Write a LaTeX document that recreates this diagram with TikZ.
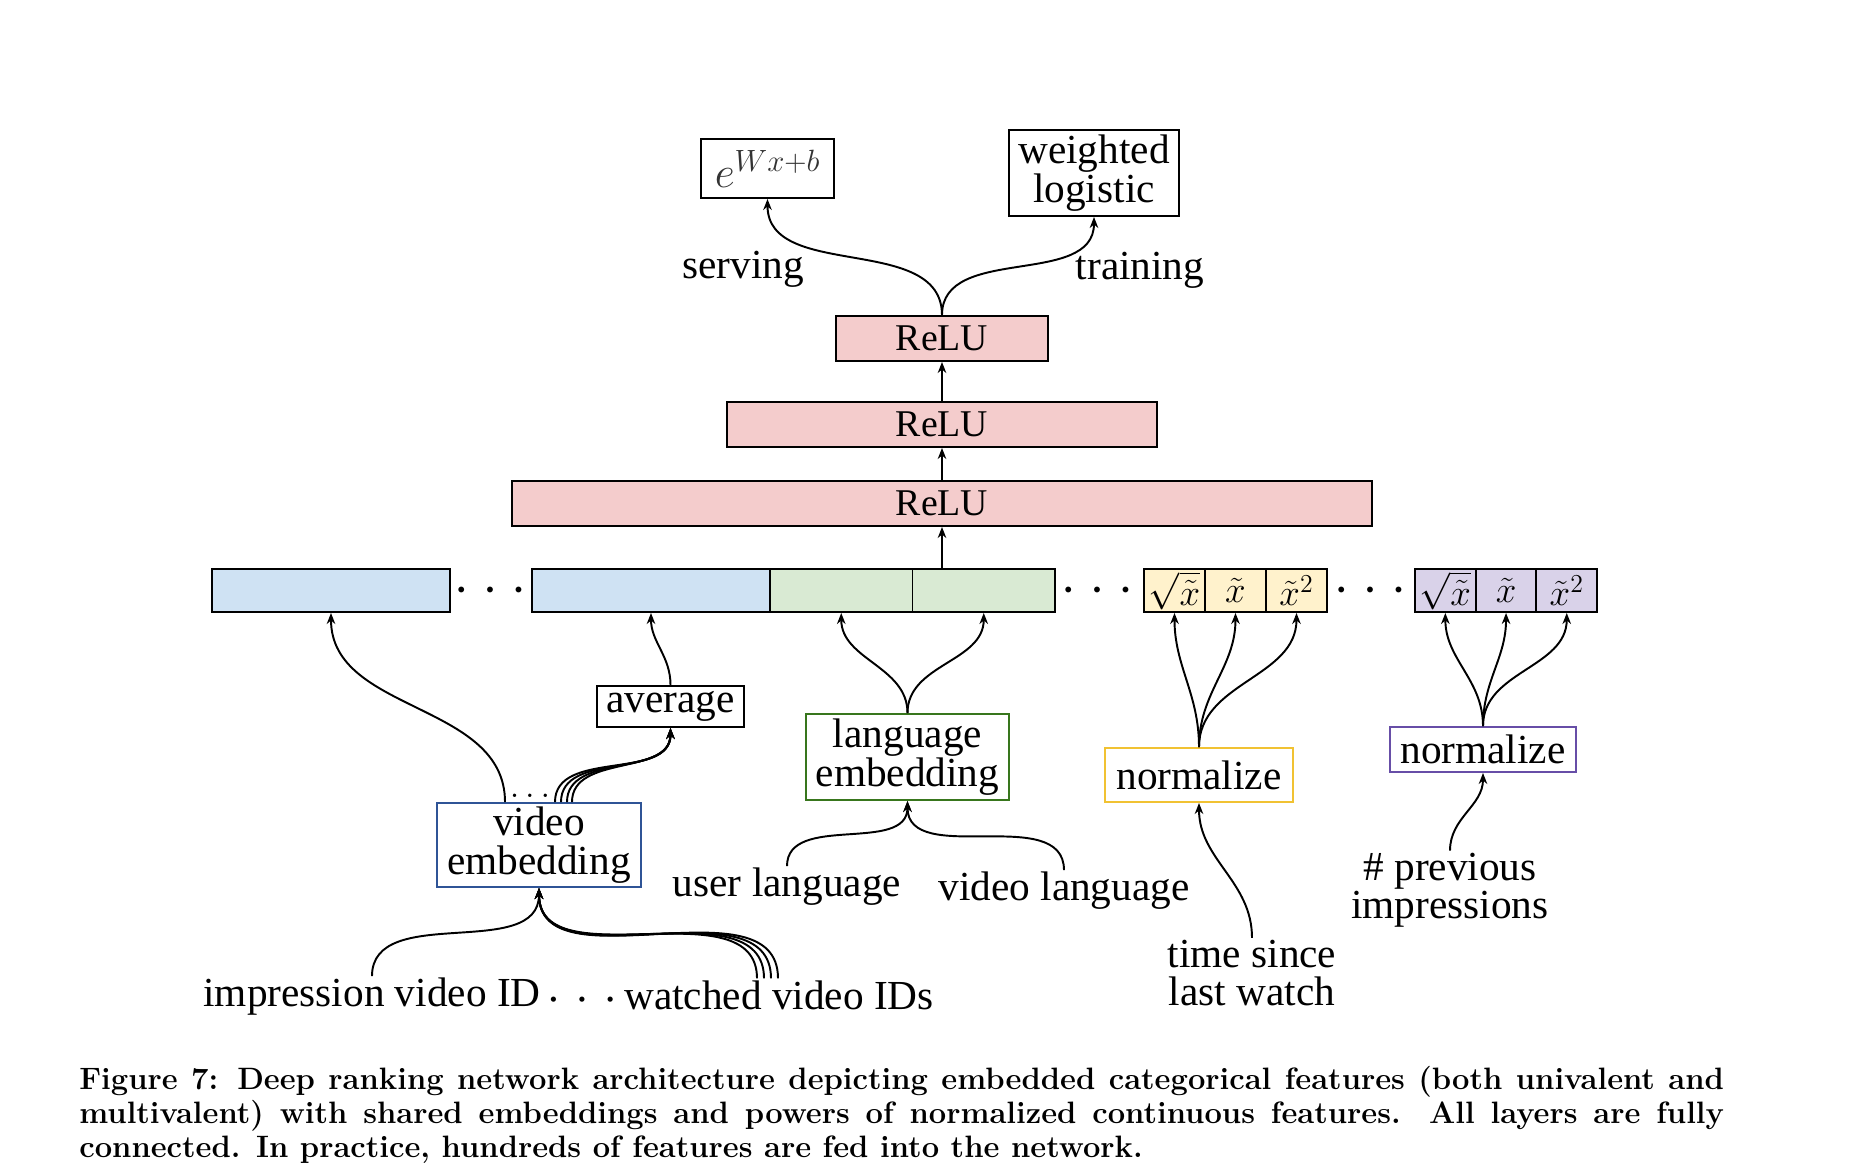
\RequirePackage{fix-cm}
\documentclass[tikz,border=0pt]{standalone}
\usepackage{amsmath}
\usepackage[no-math]{fontspec}
\setmainfont{Liberation Serif}
\usepackage{xcolor}
\usetikzlibrary{arrows.meta}

\definecolor{relupink}{RGB}{244,204,204}
\definecolor{embblue}{RGB}{207,226,243}
\definecolor{langgreen}{RGB}{217,234,211}
\definecolor{tswyellow}{RGB}{255,242,204}
\definecolor{imppurple}{RGB}{217,210,233}
\definecolor{vidborder}{RGB}{47,84,150}
\definecolor{langborder}{RGB}{56,118,29}
\definecolor{tswborder}{RGB}{241,194,50}
\definecolor{impborder}{RGB}{103,78,167}

\newcommand{\rowdots}[1]{{\fontsize{#1}{#1}\selectfont$\bullet$\hspace{12pt}$\bullet$\hspace{12pt}$\bullet$}}

\begin{document}
\begin{tikzpicture}[
  x=0.02cm, y=0.02cm,
  font=\fontsize{23.5}{21.9}\selectfont,
  layer/.style={draw, line width=1.1pt, fill=relupink, minimum height=0.9cm, inner sep=0pt,
                font=\fontsize{21.5}{22}\selectfont},
  feat/.style={draw, line width=1.1pt, minimum height=0.86cm, inner sep=0pt,
               font=\fontsize{21}{22}\selectfont},
  opbox/.style={draw, line width=1.1pt, fill=white, align=center, inner sep=0pt},
  lbl/.style={align=center, inner sep=1pt},
  arr/.style={-{Stealth[length=2.2mm, width=1.7mm, inset=0.7mm]}, line width=1.1pt},
  up/.style={out=90, in=-90}
]
\useasboundingbox (0,0) rectangle (1850,-1174);

% output heads
\node[opbox, minimum width=2.66cm, minimum height=1.18cm, font=\fontsize{25}{26}\selectfont, text=black!80] (expo) at (767.5,-168.5) {$e^{Wx+b}$};
\node[opbox, minimum width=3.4cm, minimum height=1.72cm] (wlog) at (1094,-173) {weighted\\logistic};
\node[lbl] (serving) at (743,-269) {serving};
\node[lbl] (training) at (1140,-270) {training};

% hidden layers
\node[layer, minimum width=4.24cm] (relu3) at (942,-338.5) {ReLU};
\node[layer, minimum width=8.6cm] (relu2) at (942,-424.5) {ReLU};
\node[layer, minimum width=17.2cm] (relu1) at (942,-503.5) {ReLU};

% feature row
\node[feat, fill=embblue, minimum width=4.76cm] (vec1) at (331,-590.5) {};
\node (dots1) at (490,-590.5) {\rowdots{8}};
\node[feat, fill=embblue, minimum width=4.76cm] (vec2) at (651,-590.5) {};
\node[feat, fill=langgreen, minimum width=2.85cm] (lang1) at (841.25,-590.5) {};
\node[feat, fill=langgreen, minimum width=2.85cm] (lang2) at (983.75,-590.5) {};
\node (dots2) at (1097,-590.5) {\rowdots{8}};
\foreach \t [count=\i] in {{\sqrt{\tilde x}}, {\tilde x}, {\tilde x^2}}
  \node[feat, fill=tswyellow, minimum width=1.22cm] (tsw\i) at (1113.5+61*\i,-590.5) {$\t$};
\node (dots4) at (1370,-590.5) {\rowdots{8}};
\foreach \t [count=\i] in {{\sqrt{\tilde x}}, {\tilde x}, {\tilde x^2}}
  \node[feat, fill=imppurple, minimum width=1.214cm] (imp\i) at (1384.65+60.7*\i,-590.5) {$\t$};

% embeddings and normalizers
\node[opbox, minimum width=2.94cm, minimum height=0.82cm] (avg) at (670.5,-706.5) {average};
\node[opbox, draw=langborder, minimum width=4.06cm, minimum height=1.72cm] (langemb) at (907.5,-757) {language\\embedding};
\node[opbox, draw=tswborder, minimum width=3.76cm, minimum height=1.08cm] (normy) at (1199,-775) {normalize};
\node[opbox, draw=impborder, minimum width=3.72cm, minimum height=0.9cm] (normp) at (1483,-749.5) {normalize};
\node[opbox, draw=vidborder, minimum width=4.08cm, minimum height=1.68cm] (vemb) at (539,-845) {video\\embedding};
\node[anchor=base, inner sep=0pt, font=\fontsize{20}{22}\selectfont] (vdots) at (533,-797) {$\dots$};

% inputs
\node[lbl] (userlang) at (787,-887) {user language};
\node[lbl] (vidlang) at (1064,-891) {video language};
\node[lbl] (tsince) at (1252,-973) {time since\\last watch};
\node[lbl] (previmp) at (1450,-890) {\# previous\\impressions};
\node[lbl] (impid) at (372,-997) {impression video ID};
\node (dots3) at (582,-1000) {\rowdots{6.5}};
\node[lbl] (watched) at (779,-995) {watched video IDs};

% connections
\draw[arr] (relu1) -- (relu2);
\draw[arr] (relu2) -- (relu3);
\draw[arr] (lang2.north -| relu1.south) -- (relu1.south);
\draw[arr] (relu3.north) to[up] (expo.south);
\draw[arr] (relu3.north) to[up] (wlog.south);
\draw[arr] ([xshift=-0.68cm]vemb.north) to[up] (vec1.south);
\foreach \s in {0.32,0.44,0.56,0.66}
  \draw[arr] ([xshift=\s cm]vemb.north) to[up] (avg.south);
\draw[arr] (avg.north) to[up] (vec2.south);
\draw[arr] (langemb.north) to[up] (lang1.south);
\draw[arr] (langemb.north) to[up] (lang2.south);
\foreach \i in {1,2,3} {
  \draw[arr] (normy.north) to[up] (tsw\i.south);
  \draw[arr] (normp.north) to[up] (imp\i.south);
}
\draw[arr] (tsince.north) to[up] (normy.south);
\draw[arr] (previmp.north) to[up] (normp.south);
\draw[arr] (userlang.north) to[up] (langemb.south);
\draw[arr] (vidlang.north) to[up] (langemb.south);
\draw[arr] (impid.north) to[up] (vemb.south);
\foreach \s in {-0.44,-0.3,-0.16,-0.02}
  \draw[arr] ([xshift=\s cm]watched.north) to[up] (vemb.south);

% caption
\node[anchor=north west, inner sep=0pt, text width=32.9cm, align=justify,
      font=\fontfamily{lmr}\fontseries{bx}\fontsize{17.6}{19.3}\selectfont] (caption) at (79,-1066) {Figure 7: Deep ranking network architecture depicting embedded categorical features (both univalent and\linebreak multivalent) with shared embeddings and powers of normalized continuous features.  All layers are fully\linebreak connected. In practice, hundreds of features are fed into the network.};
\end{tikzpicture}
\end{document}
